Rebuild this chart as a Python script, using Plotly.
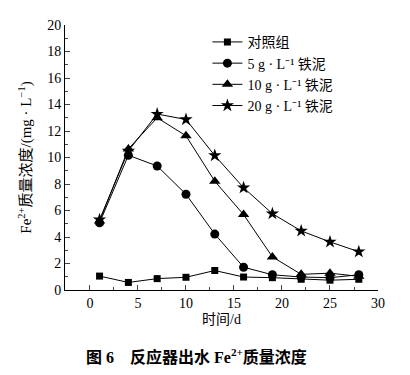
import plotly.graph_objects as go

days = [1, 4, 7, 10, 13, 16, 19, 22, 25, 28]
control = [1.05, 0.57, 0.86, 0.96, 1.47, 0.98, 0.93, 0.81, 0.74, 0.81]
sludge5 = [5.07, 10.17, 9.36, 7.23, 4.22, 1.72, 1.15, 0.98, 0.93, 1.15]
sludge10 = [5.2, 10.65, 13.0, 11.64, 8.21, 5.69, 2.5, 1.18, 1.27, 1.03]
sludge20 = [5.3, 10.5, 13.28, 12.87, 10.15, 7.72, 5.76, 4.46, 3.63, 2.89]

names = ["对照组", "5 g · L⁻¹ 铁泥", "10 g · L⁻¹ 铁泥", "20 g · L⁻¹ 铁泥"]
symbols = ["square", "circle", "triangle-up", "star"]
series = [control, sludge5, sludge10, sludge20]
sizes = [7, 9, 10, 10]

font_serif = "Liberation Serif, Noto Sans CJK SC"

fig = go.Figure()
for n, s, y, sz in zip(names, symbols, series, sizes):
    fig.add_trace(go.Scatter(x=days, y=y, name=n, mode="lines+markers",
                             line=dict(color="black", width=1),
                             marker=dict(symbol=s, size=sz, color="black")))

fig.update_layout(
    width=402, height=367,
    margin=dict(l=57, r=32, t=10, b=85),
    plot_bgcolor="white", paper_bgcolor="white",
    font=dict(family=font_serif, size=14, color="black"),
    showlegend=True,
    legend=dict(x=0.455, y=0.995, xanchor="left", yanchor="top",
                bgcolor="rgba(0,0,0,0)", font=dict(size=14), tracegroupgap=0),
    xaxis=dict(range=[-2.6, 30], tickvals=[0, 5, 10, 15, 20, 25, 30],
               ticks="inside", ticklen=5, tickwidth=1, showline=True, linecolor="black",
               linewidth=1, showgrid=False, zeroline=False, mirror=False,
               minor=dict(ticks="inside", ticklen=3, dtick=2.5, tick0=0),
               title=dict(text="时间/d", font=dict(size=14), standoff=4)),
    yaxis=dict(range=[0, 20], dtick=2, ticks="inside", ticklen=5, tickwidth=1,
               showline=True, linecolor="black", linewidth=1, showgrid=False,
               zeroline=False, minor=dict(ticks="inside", ticklen=3, dtick=1),
               title=dict(text="Fe<sup>2+</sup>质量浓度/(mg · L<sup>−1</sup>)", font=dict(size=15), standoff=11)),
    annotations=[dict(text="<b>图 6    反应器出水 Fe<sup>2+</sup>质量浓度</b>", xref="paper", yref="paper",
                      x=0.42, y=0, yshift=-54, xanchor="center", yanchor="top",
                      showarrow=False, font=dict(size=16))],
)

fig.write_html("out.html")
